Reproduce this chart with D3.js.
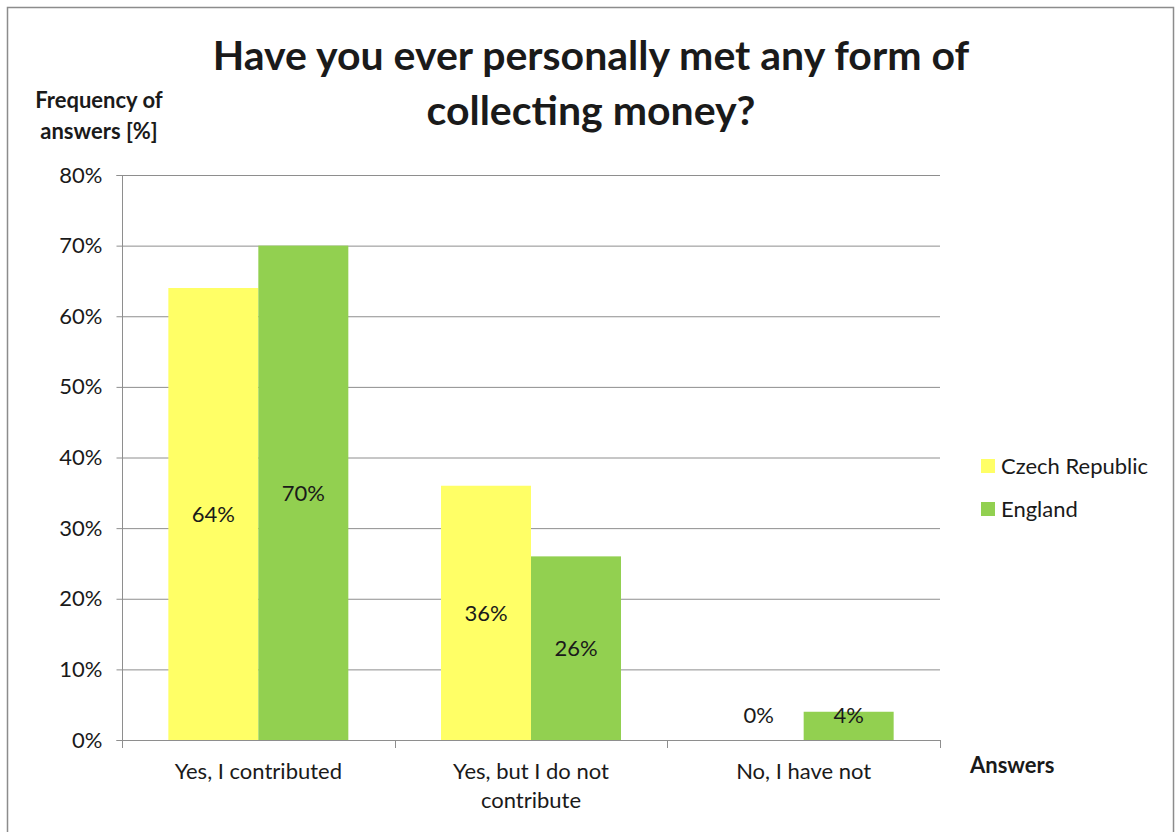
<!DOCTYPE html>
<html>
<head>
<meta charset="utf-8">
<script src="https://cdn.jsdelivr.net/npm/d3@7"></script>
<style>
  html, body { margin: 0; padding: 0; background: #fff; }
  svg { display: block; }
  text { font-family: Lato, "Open Sans", "Liberation Sans", sans-serif; fill: #1a1a1a; }
</style>
</head>
<body>
<svg id="chart" width="1176" height="832"></svg>
<script>
// Survey answers and share of respondents per country
const categories = [["Yes, I contributed"], ["Yes, but I do not", "contribute"], ["No, I have not"]];
const seriesNames = ["Czech Republic", "England"];
const czechValues = [64, 36, 0];
const englandValues = [70, 26, 4];
const yTicks = [0, 10, 20, 30, 40, 50, 60, 70, 80];
const seriesColors = ["#ffff66", "#92d050"];

const svg = d3.select("#chart");
const W = 1176, H = 832;
const FS = 22;

// Outer chart frame
svg.append("rect")
  .attr("x", 7.5).attr("y", 7.5)
  .attr("width", W - 10).attr("height", H - 4)
  .attr("fill", "#fff").attr("stroke", "#8c8c8c").attr("stroke-width", 1.5);

const plot = { left: 122, right: 940, top: 175, bottom: 740 };

const x0 = d3.scaleBand()
  .domain(d3.range(categories.length))
  .range([plot.left, plot.right])
  .paddingInner(0).paddingOuter(0);

const x1 = d3.scaleBand()
  .domain(d3.range(seriesNames.length))
  .range([0, x0.bandwidth()])
  .paddingInner(0).paddingOuter(0.515);

const y = d3.scaleLinear().domain([0, 80]).range([plot.bottom, plot.top]);

// Horizontal gridlines
svg.append("g")
  .selectAll("line")
  .data(yTicks.filter(t => t > 0))
  .join("line")
  .attr("x1", plot.left).attr("x2", plot.right)
  .attr("y1", d => y(d) + 0.5).attr("y2", d => y(d) + 0.5)
  .attr("stroke", "#8e8e8e").attr("stroke-width", 1);

// Bars
const data = [czechValues, englandValues];
const barG = svg.append("g");
data.forEach((vals, si) => {
  barG.selectAll(null)
    .data(vals)
    .join("rect")
    .attr("x", (d, i) => x0(i) + x1(si))
    .attr("y", d => y(d))
    .attr("width", x1.bandwidth())
    .attr("height", d => y(0) - y(d))
    .attr("fill", seriesColors[si]);
});

// Value labels
data.forEach((vals, si) => {
  svg.append("g").selectAll("text")
    .data(vals)
    .join("text")
    .attr("x", (d, i) => x0(i) + x1(si) + x1.bandwidth() / 2)
    .attr("y", d => Math.min((y(d) + y(0)) / 2, y(0) - 25))
    .attr("dy", "0.35em")
    .attr("text-anchor", "middle")
    .attr("font-size", FS)
    .text(d => d + "%");
});

// Y axis
const yAxis = d3.axisLeft(y)
  .tickValues(yTicks)
  .tickFormat(d => d + "%")
  .tickSize(6)
  .tickPadding(14);
const yg = svg.append("g").attr("transform", `translate(${plot.left + 0.5},0)`).call(yAxis);
yg.select(".domain").attr("stroke", "#8e8e8e").attr("d", `M-6,${plot.top + 0.5}H0V${plot.bottom + 0.5}H-6`);
yg.selectAll(".tick line").attr("stroke", "#8e8e8e");
yg.selectAll(".tick text").attr("font-size", FS).attr("fill", "#1a1a1a")
  .style("font-family", "Lato, 'Open Sans', sans-serif");

// X axis line with category separators
svg.append("line")
  .attr("x1", plot.left).attr("x2", plot.right)
  .attr("y1", plot.bottom + 0.5).attr("y2", plot.bottom + 0.5)
  .attr("stroke", "#8e8e8e");
const seps = d3.range(categories.length + 1).map(i => i < categories.length ? x0(i) : plot.right);
svg.append("g").selectAll("line")
  .data(seps)
  .join("line")
  .attr("x1", d => Math.round(d) + 0.5).attr("x2", d => Math.round(d) + 0.5)
  .attr("y1", plot.bottom).attr("y2", plot.bottom + 8)
  .attr("stroke", "#8e8e8e");

// Category labels
const catG = svg.append("g");
categories.forEach((lines, i) => {
  const t = catG.append("text")
    .attr("x", x0(i) + x0.bandwidth() / 2)
    .attr("y", 779)
    .attr("text-anchor", "middle")
    .attr("font-size", FS);
  lines.forEach((ln, k) => {
    t.append("tspan").attr("x", x0(i) + x0.bandwidth() / 2).attr("dy", k === 0 ? 0 : 29).text(ln);
  });
});

// Title
const title = svg.append("text")
  .attr("text-anchor", "middle")
  .attr("font-size", 41)
  .attr("font-weight", "bold")
  .attr("fill", "#000");
title.append("tspan").attr("x", 591).attr("y", 70).text("Have you ever personally met any form of");
title.append("tspan").attr("x", 591).attr("y", 125).text("collecting money?");

// Y axis title
const yt = svg.append("text")
  .attr("text-anchor", "middle")
  .attr("font-size", 22)
  .attr("font-weight", "bold")
  .attr("fill", "#000");
yt.append("tspan").attr("x", 99).attr("y", 108).text("Frequency of");
yt.append("tspan").attr("x", 99).attr("y", 139).text("answers [%]");

// X axis title
svg.append("text")
  .attr("x", 970).attr("y", 773)
  .attr("font-size", 22)
  .attr("font-weight", "bold")
  .attr("fill", "#000")
  .text("Answers");

// Legend
const legend = svg.append("g").attr("transform", "translate(981,459)");
seriesNames.forEach((name, i) => {
  const g = legend.append("g").attr("transform", `translate(0,${i * 43})`);
  g.append("rect").attr("width", 14).attr("height", 14).attr("fill", seriesColors[i]);
  g.append("text").attr("x", 20).attr("y", 7).attr("dy", "0.35em")
    .attr("font-size", FS).text(name);
});
</script>
</body>
</html>
